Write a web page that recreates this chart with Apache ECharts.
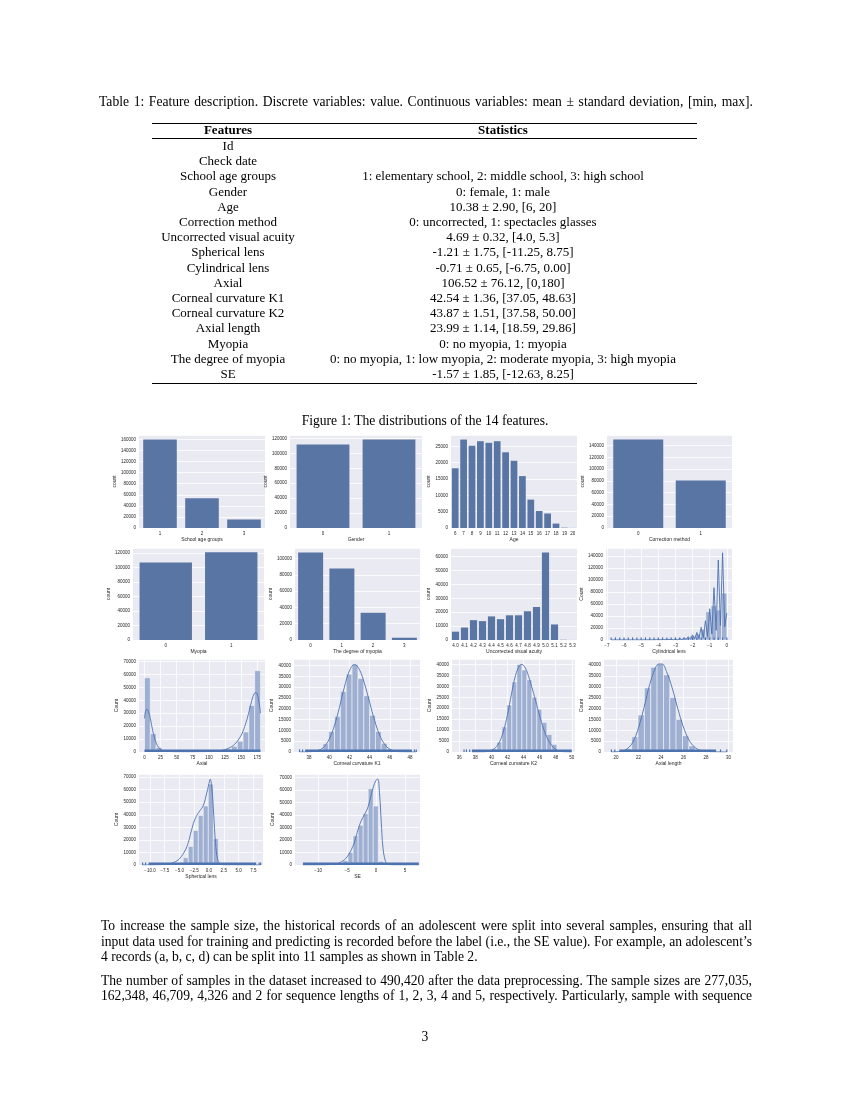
<!DOCTYPE html>
<html>
<head>
<meta charset="utf-8">
<script src="https://cdn.jsdelivr.net/npm/echarts@6/dist/echarts.min.js"></script>
<style>
html,body{margin:0;padding:0;background:#fff;}
#page{position:relative;width:850px;height:1100px;overflow:hidden;font-family:"Liberation Serif","Times New Roman",serif;color:#000;}
#chart{position:absolute;left:0;top:0;width:850px;height:1100px;}
.t{position:absolute;white-space:nowrap;font-size:13px;line-height:16px;height:16px;text-align:center;}
.f{left:78px;width:300px;}
.s{left:303px;width:400px;}
.b{font-weight:bold;}
.rule{position:absolute;left:152px;width:545px;background:#000;}
.ln{position:absolute;display:inline-block;white-space:nowrap;font-size:13.6px;line-height:16px;}
</style>
</head>
<body>
<div id="page">
<div id="chart"></div>

<div class="ln fit" data-w="654" style="left:99px;top:94px;">Table 1: Feature description. Discrete variables: value. Continuous variables: mean ± standard deviation, [min, max].</div>

<div class="rule" style="top:122.5px;height:1px;"></div>
<div class="t f b" style="top:122px;">Features</div>
<div class="t s b" style="top:122px;">Statistics</div>
<div class="rule" style="top:138px;height:0.7px;"></div>
<div id="rows"></div>
<div class="rule" style="top:382.5px;height:1px;"></div>

<div class="ln" id="figcap" style="left:0;top:413px;">Figure 1: The distributions of the 14 features.</div>

<div class="ln fit" data-w="651" style="left:101px;top:918px;">To increase the sample size, the historical records of an adolescent were split into several samples, ensuring that all</div>
<div class="ln fit" data-w="651" style="left:101px;top:934px;">input data used for training and predicting is recorded before the label (i.e., the SE value). For example, an adolescent’s</div>
<div class="ln" style="left:101px;top:949px;">4 records (a, b, c, d) can be split into 11 samples as shown in Table 2.</div>
<div class="ln fit" data-w="651" style="left:101px;top:973px;">The number of samples in the dataset increased to 490,420 after the data preprocessing. The sample sizes are 277,035,</div>
<div class="ln fit" data-w="651" style="left:101px;top:988px;">162,348, 46,709, 4,326 and 2 for sequence lengths of 1, 2, 3, 4 and 5, respectively. Particularly, sample with sequence</div>
<div class="ln" id="pnum" style="left:0;top:1029px;">3</div>
</div>

<script>
// ---------------- table text ----------------
const tableFeatures = ['Id','Check date','School age groups','Gender','Age','Correction method','Uncorrected visual acuity','Spherical lens','Cylindrical lens','Axial','Corneal curvature K1','Corneal curvature K2','Axial length','Myopia','The degree of myopia','SE'];
const tableStats = ['','','1: elementary school, 2: middle school, 3: high school','0: female, 1: male','10.38 ± 2.90, [6, 20]','0: uncorrected, 1: spectacles glasses','4.69 ± 0.32, [4.0, 5.3]','-1.21 ± 1.75, [-11.25, 8.75]','-0.71 ± 0.65, [-6.75, 0.00]','106.52 ± 76.12, [0,180]','42.54 ± 1.36, [37.05, 48.63]','43.87 ± 1.51, [37.58, 50.00]','23.99 ± 1.14, [18.59, 29.86]','0: no myopia, 1: myopia','0: no myopia, 1: low myopia, 2: moderate myopia, 3: high myopia','-1.57 ± 1.85, [-12.63, 8.25]'];

// ---------------- count plot data ----------------
const schoolCats = ['1','2','3'];
const schoolCounts = [160000, 53600, 15300];
const genderCats = ['0','1'];
const genderCounts = [112000, 118700];
const ageCats = ['6','7','8','9','10','11','12','13','14','15','16','17','18','19','20'];
const ageCounts = [18300, 27100, 25200, 26600, 26100, 26600, 23200, 20600, 15900, 8700, 5200, 4450, 1350, 100, 20];
const corrCats = ['0','1'];
const corrCounts = [150300, 80500];
const myopiaCats = ['0','1'];
const myopiaCounts = [107000, 121000];
const degreeCats = ['0','1','2','3'];
const degreeCounts = [107500, 87800, 33400, 2800];
const uvaCats = ['4.0','4.1','4.2','4.3','4.4','4.5','4.6','4.7','4.8','4.9','5.0','5.1','5.2','5.3'];
const uvaCounts = [6000, 9000, 14300, 13600, 17000, 15000, 17800, 17800, 20700, 23800, 63100, 11200, 150, 30];

// ---------------- histogram data: bins [x0, x1, count] ----------------
const cylBins = [[-6.75,-6.44,300],[-6.44,-6.14,200],[-6.14,-5.83,200],[-5.83,-5.52,300],[-5.52,-5.22,300],[-5.22,-4.91,400],[-4.91,-4.60,400],[-4.60,-4.30,500],[-4.30,-3.99,600],[-3.99,-3.68,800],[-3.68,-3.38,900],[-3.38,-3.07,1200],[-3.07,-2.76,1800],[-2.76,-2.45,2500],[-2.45,-2.15,4000],[-2.15,-1.84,7000],[-1.84,-1.53,10000],[-1.53,-1.23,18000],[-1.23,-0.92,47000],[-0.92,-0.61,57000],[-0.61,-0.31,50000],[-0.31,0,78000]];
const cylKde = [[-6.75,200],[-5,200],[-3.5,600],[-3.25,1200],[-3.125,300],[-3,1800],[-2.875,400],[-2.75,2500],[-2.625,500],[-2.5,3500],[-2.375,700],[-2.25,5500],[-2.125,1000],[-2,8500],[-1.875,1500],[-1.75,12500],[-1.625,2500],[-1.5,21000],[-1.375,4000],[-1.25,32000],[-1.125,6000],[-1,52000],[-0.875,10000],[-0.75,87000],[-0.625,16000],[-0.5,133000],[-0.375,24000],[-0.25,145000],[-0.125,22000],[0,45000]];
const cylRug = [[-6.75,-6.75],[-6.5,-6.5],[-6.25,-6.25],[-6,-6],[-5.75,-5.75],[-5.5,-5.5],[-5.25,-5.25],[-5,-5],[-4.75,-4.75],[-4.5,-4.5],[-4.25,-4.25],[-4,-4],[-3.75,-3.75],[-3.5,-3.5],[-3.25,-3.25],[-3,-3],[-2.75,-2.75],[-2.5,-2.5],[-2.25,-2.25],[-2,-2],[-1.75,-1.75],[-1.5,-1.5],[-1.25,-1.25],[-1,-1],[-0.75,-0.75],[-0.5,-0.5],[-0.25,-0.25],[0,0]];

const axialBins = [[0,9,57500],[9,18,14200],[18,27,3500],[27,36,1300],[36,45,700],[45,54,500],[54,63,400],[63,72,400],[72,81,400],[81,90,500],[90,99,600],[99,108,700],[108,117,900],[117,126,1500],[126,135,2400],[135,144,4400],[144,153,8300],[153,162,15500],[162,171,36000],[171,180,63000]];
const axialKde = [[0,26000],[2,32000],[4,33000],[6,31500],[9,26000],[12,18500],[15,12000],[20,5000],[25,2000],[30,900],[40,300],[60,150],[80,200],[100,400],[110,700],[120,1300],[130,2800],[140,6000],[150,13000],[155,19000],[160,27000],[165,37000],[170,45000],[173,46000],[176,43000],[180,30000]];
const axialRug = [[0,180]];

const k1Bins = [[37.63,38.21,60],[38.21,38.79,300],[38.79,39.37,1200],[39.37,39.95,3800],[39.95,40.52,9500],[40.52,41.10,16500],[41.10,41.68,28000],[41.68,42.26,36000],[42.26,42.84,40500],[42.84,43.42,34000],[43.42,44.00,26000],[44.00,44.58,17000],[44.58,45.15,9500],[45.15,45.73,4000],[45.73,46.31,1500],[46.31,46.89,400],[46.89,47.47,100]];
const k1Kde = [[37.05,0],[38,80],[39,900],[39.5,2500],[40,6000],[40.5,12000],[41,20500],[41.5,30000],[42,37500],[42.5,40500],[43,38000],[43.5,31500],[44,23000],[44.5,14500],[45,7800],[45.5,3500],[46,1300],[46.5,400],[47,120],[48.63,0]];
const k1Rug = [[37.05,37.05],[37.35,37.35],[37.6,48.2],[48.45,48.45],[48.63,48.63]];

const k2Bins = [[38.82,39.44,100],[39.44,40.06,500],[40.06,40.68,1500],[40.68,41.31,4500],[41.31,41.93,11500],[41.93,42.55,21500],[42.55,43.17,32000],[43.17,43.79,40000],[43.79,44.41,37500],[44.41,45.03,33000],[45.03,45.65,25000],[45.65,46.27,19500],[46.27,46.90,13500],[46.90,47.52,8000],[47.52,48.14,3500],[48.14,48.76,1000],[48.76,49.38,200]];
const k2Kde = [[37.58,0],[39,50],[40,800],[40.5,2000],[41,4500],[41.5,9500],[42,17000],[42.5,26500],[43,35000],[43.5,39500],[43.8,40000],[44.2,38500],[44.5,36000],[45,30000],[45.5,23500],[46,16500],[46.5,10500],[47,6000],[47.5,3000],[48,1200],[48.5,400],[49,100],[50,0]];
const k2Rug = [[36.6,36.6],[36.9,36.9],[37.3,37.3],[37.58,50.0]];

const alBins = [[19.72,20.28,60],[20.28,20.84,300],[20.84,21.41,1500],[21.41,21.97,7000],[21.97,22.53,17000],[22.53,23.10,29500],[23.10,23.66,39000],[23.66,24.23,40500],[24.23,24.79,35500],[24.79,25.35,25000],[25.35,25.92,15000],[25.92,26.48,7500],[26.48,27.04,2800],[27.04,27.61,800],[27.61,28.17,200]];
const alKde = [[19.6,0],[20,100],[20.5,400],[21,1500],[21.5,4500],[22,11000],[22.5,20500],[23,31000],[23.5,38500],[23.8,40500],[24.1,40500],[24.5,37000],[25,29500],[25.5,20000],[26,11500],[26.5,5500],[27,2200],[27.5,800],[28,250],[29,50],[29.86,0]];
const alRug = [[19.6,19.6],[19.9,19.9],[20.3,28.9],[29.3,29.3],[29.86,29.86]];

const sphBins = [[-6.92,-6.07,300],[-6.07,-5.22,700],[-5.22,-4.37,2000],[-4.37,-3.52,5800],[-3.52,-2.67,14800],[-2.67,-1.82,27500],[-1.82,-0.97,39500],[-0.97,-0.12,47000],[-0.12,0.73,64500],[0.73,1.58,21000],[1.58,2.43,1500],[2.43,3.28,300]];
const sphKde = [[-11.25,0],[-8,300],[-7,800],[-6,2000],[-5,5000],[-4,12000],[-3.5,18000],[-3,27000],[-2.5,35000],[-2,40000],[-1.5,43500],[-1,47000],[-0.5,55000],[0,65000],[0.2,68500],[0.5,60000],[0.8,40000],[1.1,18000],[1.5,4000],[2,800],[3,150],[5,50],[8.75,0]];
const sphRug = [[-11.25,-11.25],[-10.75,-10.75],[-10.25,8.0],[8.5,8.5],[8.75,8.75]];

const seBins = [[-7.44,-6.57,400],[-6.57,-5.70,1000],[-5.70,-4.83,3500],[-4.83,-3.96,10100],[-3.96,-3.09,23400],[-3.09,-2.22,31900],[-2.22,-1.35,41200],[-1.35,-0.48,61200],[-0.48,0.39,47300],[0.39,1.26,2900],[1.26,2.13,400]];
const seKde = [[-12.63,0],[-9,100],[-8,300],[-7,800],[-6,2500],[-5,6500],[-4,15000],[-3.5,22000],[-3,30000],[-2.5,36000],[-2,40500],[-1.5,45000],[-1,53000],[-0.5,62000],[0,68000],[0.3,69000],[0.6,58000],[0.9,35000],[1.2,14000],[1.6,3500],[2,800],[3,100],[5,30],[7.4,0]];
const seRug = [[-12.63,7.4]];

// ---------------- tick labels ----------------
const cylTicks = [-7,-6,-5,-4,-3,-2,-1,0];
const axialTicks = [0,25,50,75,100,125,150,175];
const k1Ticks = [38,40,42,44,46,48];
const k2Ticks = [36,38,40,42,44,46,48,50];
const alTicks = [20,22,24,26,28,30];
const sphTicks = [-10,-7.5,-5,-2.5,0,2.5,5,7.5];
const seTicks = [-10,-5,0,5];

// ---------------- layout & style ----------------
const BAR = '#5975A4', HIST = '#9EAFD2', LINE = '#4C72B0', BG = '#EAEAF2', TXT = '#262626';
const FONT = '"Liberation Sans", Arial, sans-serif';
const panels = [
  {kind:'count', cats:schoolCats, vals:schoolCounts, xname:'School age groups', max:168000, step:20000, g:{l:139,t:435,w:126,h:93}, ng:21},
  {kind:'count', cats:genderCats, vals:genderCounts, xname:'Gender', max:124600, step:20000, g:{l:290,t:435,w:132,h:93}, ng:18},
  {kind:'count', cats:ageCats, vals:ageCounts, xname:'Age', max:28500, step:5000, g:{l:451,t:435,w:126,h:93}, ng:19},
  {kind:'count', cats:corrCats, vals:corrCounts, xname:'Correction method', max:158000, step:20000, g:{l:607,t:435,w:125,h:93}, ng:21},
  {kind:'count', cats:myopiaCats, vals:myopiaCounts, xname:'Myopia', max:127000, step:20000, g:{l:133,t:548,w:131,h:92}, ng:18},
  {kind:'count', cats:degreeCats, vals:degreeCounts, xname:'The degree of myopia', max:112900, step:20000, g:{l:295,t:548,w:125,h:92}, ng:21},
  {kind:'count', cats:uvaCats, vals:uvaCounts, xname:'Uncorrected visual acuity', max:66300, step:10000, g:{l:451,t:548,w:126,h:92}, ng:18},
  {kind:'hist', bins:cylBins, kde:cylKde, rug:cylRug, ticks:cylTicks, xmin:-7.05, xmax:0.3, xname:'Cylindrical lens', max:153000, step:20000, g:{l:606,t:548,w:126,h:92}, ng:19, fmt:'int'},
  {kind:'hist', bins:axialBins, kde:axialKde, rug:axialRug, ticks:axialTicks, xmin:-8.5, xmax:187, xname:'Axial', max:72000, step:10000, g:{l:139,t:659,w:126,h:93}, ng:18, fmt:'int'},
  {kind:'hist', bins:k1Bins, kde:k1Kde, rug:k1Rug, ticks:k1Ticks, xmin:36.5, xmax:49.0, xname:'Corneal curvature K1', max:43000, step:5000, g:{l:294,t:659,w:126,h:93}, ng:18, fmt:'int'},
  {kind:'hist', bins:k2Bins, kde:k2Kde, rug:k2Rug, ticks:k2Ticks, xmin:35.1, xmax:50.4, xname:'Corneal curvature K2', max:42500, step:5000, g:{l:452,t:659,w:123,h:93}, ng:18, fmt:'int'},
  {kind:'hist', bins:alBins, kde:alKde, rug:alRug, ticks:alTicks, xmin:18.94, xmax:30.41, xname:'Axial length', max:42800, step:5000, g:{l:604,t:659,w:129,h:93}, ng:18, fmt:'int'},
  {kind:'hist', bins:sphBins, kde:sphKde, rug:sphRug, ticks:sphTicks, xmin:-11.86, xmax:9.15, xname:'Spherical lens', max:72500, step:10000, g:{l:139,t:774,w:124,h:91}, ng:18, fmt:'dec1'},
  {kind:'hist', bins:seBins, kde:seKde, rug:seRug, ticks:seTicks, xmin:-14.0, xmax:7.6, xname:'SE', max:73000, step:10000, g:{l:295,t:774,w:125,h:91}, ng:18, fmt:'int'}
];

// ---------------- build table rows ----------------
(function(){
  const rows = document.getElementById('rows');
  let html = '';
  tableFeatures.forEach((f, i) => {
    const top = 138 + i * 15.2;
    html += '<div class="t f" style="top:' + top + 'px;">' + f + '</div>';
    html += '<div class="t s" style="top:' + top + 'px;">' + tableStats[i] + '</div>';
  });
  rows.innerHTML = html;
})();

function fmtNum(v, kind){
  const s = kind === 'dec1' ? Math.abs(v).toFixed(1) : String(Math.abs(v));
  return (v < 0 ? '\u2212' : '') + s;
}

function histRender(params, api){
  const p0 = api.coord([api.value(0), api.value(2)]);
  const p1 = api.coord([api.value(1), 0]);
  return {type:'rect', shape:{x:p0[0], y:p0[1], width:p1[0]-p0[0], height:p1[1]-p0[1]},
          style:{fill:HIST, stroke:'#ffffff', lineWidth:0.5}};
}
function rugRender(params, api){
  const a = api.coord([api.value(0), 0]);
  const b = api.coord([api.value(1), 0]);
  let x = a[0], w = b[0] - a[0];
  if (w < 1.2){ x = a[0] - 0.6; w = 1.2; }
  return {type:'rect', shape:{x:x, y:a[1]-2.6, width:w, height:2.6}, style:{fill:LINE}};
}

const grid = [], xAxis = [], yAxis = [], series = [];
const labelStyle = {fontSize:4.5, color:TXT, fontFamily:FONT};
panels.forEach((p, i) => {
  grid.push({left:p.g.l, top:p.g.t, width:p.g.w, height:p.g.h, show:true, backgroundColor:BG, borderWidth:0, containLabel:false});
  yAxis.push({type:'value', gridIndex:i, min:0, max:p.max, interval:p.step,
    name: p.kind === 'count' ? 'count' : 'Count', nameLocation:'middle', nameGap:p.ng,
    nameTextStyle:{fontSize:5, color:TXT, fontFamily:FONT},
    axisLine:{show:false}, axisTick:{show:false},
    axisLabel:Object.assign({margin:3, showMaxLabel:false, formatter:(v)=>String(Math.round(v))}, labelStyle),
    splitLine:{show:true, lineStyle:{color:'#ffffff', width:0.8}}});
  if (p.kind === 'count'){
    xAxis.push({type:'category', gridIndex:i, data:p.cats, name:p.xname, nameLocation:'middle', nameGap:7,
      nameTextStyle:{fontSize:5, color:TXT, fontFamily:FONT, verticalAlign:'top'},
      axisLine:{show:false}, axisTick:{show:false},
      axisLabel:Object.assign({margin:3, interval:0}, labelStyle), splitLine:{show:false}});
    series.push({type:'bar', xAxisIndex:i, yAxisIndex:i, data:p.vals, barCategoryGap:'20%',
      itemStyle:{color:BAR}, silent:true, animation:false});
  } else {
    xAxis.push({type:'value', gridIndex:i, min:p.xmin, max:p.xmax, name:p.xname, nameLocation:'middle', nameGap:7,
      nameTextStyle:{fontSize:5, color:TXT, fontFamily:FONT, verticalAlign:'top'},
      axisLine:{show:false}, axisTick:{show:false, customValues:p.ticks},
      axisLabel:Object.assign({margin:3, customValues:p.ticks, formatter:(v)=>fmtNum(v, p.fmt)}, labelStyle),
      splitLine:{show:true, lineStyle:{color:'#ffffff', width:0.8}}});
    series.push({type:'custom', xAxisIndex:i, yAxisIndex:i, data:p.bins, renderItem:histRender,
      encode:{x:[0,1], y:2}, silent:true, animation:false, clip:true});
    series.push({type:'line', xAxisIndex:i, yAxisIndex:i, data:p.kde, smooth:p.kde === cylKde ? false : 0.4,
      showSymbol:false, lineStyle:{color:LINE, width:0.9}, silent:true, animation:false, z:3});
    series.push({type:'custom', xAxisIndex:i, yAxisIndex:i, data:p.rug, renderItem:rugRender,
      encode:{x:[0,1]}, silent:true, animation:false, z:4});
  }
});

const chart = echarts.init(document.getElementById('chart'), null, {renderer:'canvas'});
chart.setOption({animation:false, backgroundColor:'transparent', grid:grid, xAxis:xAxis, yAxis:yAxis, series:series});

function layoutText(){
  document.querySelectorAll('.fit').forEach(el => {
    el.style.wordSpacing = '0px';
    const natural = el.getBoundingClientRect().width;
    const target = parseFloat(el.getAttribute('data-w'));
    const spaces = (el.textContent.match(/ /g) || []).length;
    if (spaces > 0) el.style.wordSpacing = ((target - natural) / spaces) + 'px';
  });
  ['figcap','pnum'].forEach(id => {
    const el = document.getElementById(id);
    const w = el.getBoundingClientRect().width;
    el.style.left = (425 - w / 2) + 'px';
  });
}
layoutText();
if (document.fonts && document.fonts.ready) document.fonts.ready.then(layoutText);
</script>
</body>
</html>
